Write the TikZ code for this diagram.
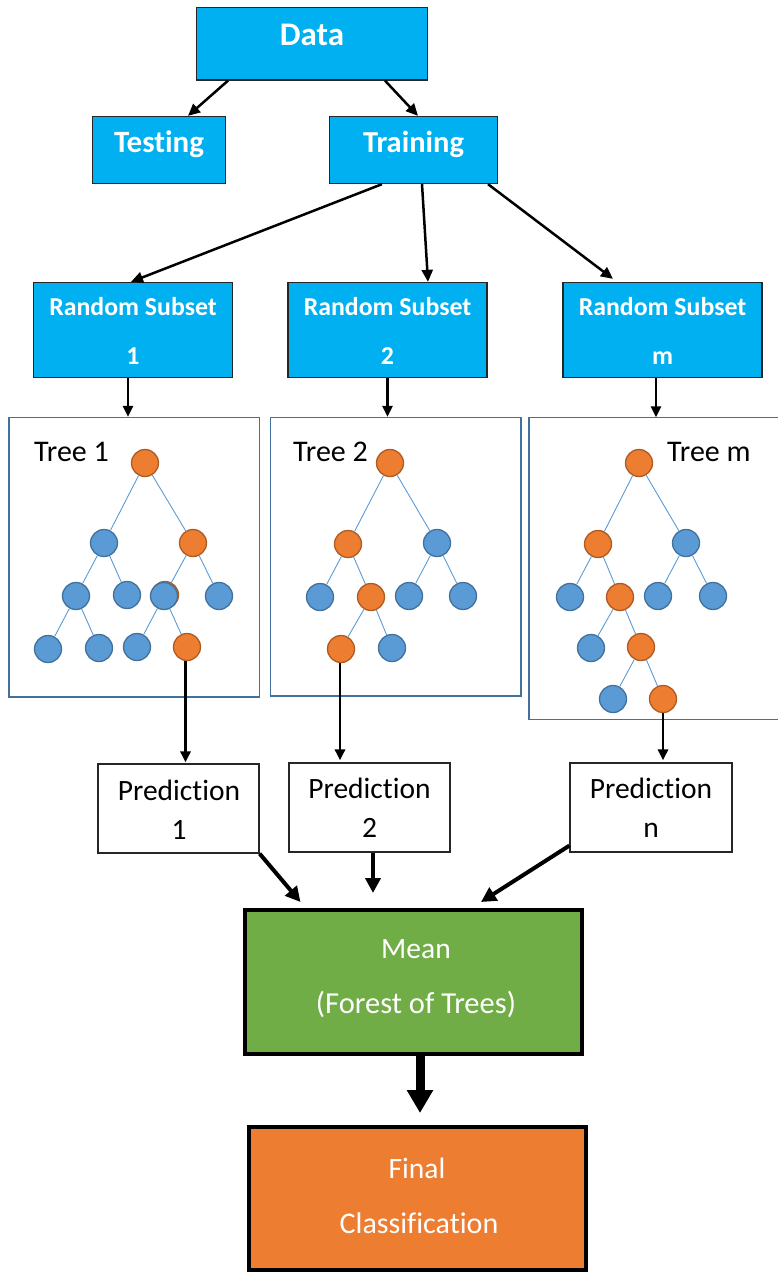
\documentclass[tikz,border=0pt]{standalone}
\usepackage{fontspec}
\setmainfont{Carlito}[Ligatures=NoCommon]
\usetikzlibrary{arrows.meta}
\definecolor{cyanbox}{HTML}{00B0F0}
\definecolor{treeblue}{HTML}{5B9BD5}
\definecolor{treebluedark}{HTML}{41719C}
\definecolor{treeorange}{HTML}{ED7D31}
\definecolor{treeorangedark}{HTML}{AE5A21}
\definecolor{meangreen}{HTML}{70AD47}
\definecolor{frame}{HTML}{262626}
\tikzset{
  bluebox/.style={draw=frame, line width=1.3pt, fill=cyanbox, inner sep=0pt},
  treebox/.style={draw=treebluedark, line width=1.4pt, inner sep=0pt},
  predbox/.style={draw=frame, line width=1.2pt, fill=white, inner sep=0pt},
  bigbox/.style={draw=black, line width=4pt, inner sep=0pt},
  onode/.style={circle, minimum size=27pt, inner sep=0pt, fill=treeorange, draw=treeorangedark, line width=1.3pt},
  bnode/.style={circle, minimum size=27pt, inner sep=0pt, fill=treeblue, draw=treebluedark, line width=1.3pt},
  edge/.style={draw=treeblue, line width=0.9pt},
  arr/.style={line width=2.5pt, -{Triangle[length=12pt,width=11pt]}},
  arrs/.style={line width=2.8pt, -{Triangle[length=11pt,width=10pt]}},
  arrb/.style={line width=4pt, -{Triangle[length=15pt,width=15pt]}},
  arrh/.style={line width=9pt, -{Triangle[length=23pt,width=25pt]}},
  boldw/.style={text=white, font=\bfseries\fontsize{#1}{#1}\selectfont, anchor=base, inner sep=0pt},
  regtxt/.style={font=\fontsize{#1}{#1}\selectfont, anchor=base, inner sep=0pt},
  regtxt/.default=29.5,
}
\begin{document}
\begin{tikzpicture}[x=1pt, y=-1pt]
\useasboundingbox (0,0) rectangle (778,1274);

% ---- top boxes
\node[bluebox, minimum width=231pt, minimum height=72.5pt] (data) at (312,43.75) {};
\node[boldw=33] (datat) at (312,45.7) {Data};
\node[bluebox, minimum width=133pt, minimum height=67pt] (testing) at (159,150) {};
\node[boldw=31] (testingt) at (159,152.7) {Testing};
\node[bluebox, minimum width=168pt, minimum height=67pt] (training) at (413.5,150) {};
\node[boldw=30.5] (trainingt) at (413.5,152.7) {Training};

% ---- random subsets
\node[bluebox, minimum width=199pt, minimum height=95pt] (rs1) at (133,330) {};
\node[bluebox, minimum width=199pt, minimum height=95pt] (rs2) at (387.5,330) {};
\node[bluebox, minimum width=199pt, minimum height=95pt] (rsm) at (662.5,330) {};
\node[boldw=25.8] (rs1a) at (133,315) {Random Subset};
\node[boldw=25.8] (rs1b) at (133,364.3) {1};
\node[boldw=25.8] (rs2a) at (387.5,315) {Random Subset};
\node[boldw=25.8] (rs2b) at (387.5,364.3) {2};
\node[boldw=25.8] (rsma) at (662.5,315) {Random Subset};
\node[boldw=25.8] (rsmb) at (662.5,364.3) {m};

% ---- tree boxes
\node[treebox, minimum width=250.5pt, minimum height=279.5pt] (t1) at (134.25,557.25) {};
\node[treebox, minimum width=250.3pt, minimum height=278.5pt] (t2) at (395.85,556.75) {};
\node[inner sep=0pt, minimum width=249pt, minimum height=301.5pt] (tm) at (653.5,568.25) {};
\draw[draw=treebluedark, line width=1.4pt] (tm.north east) -| (tm.south west) -- (tm.south east);

\node[regtxt=30, anchor=base west] (t1l) at (34,461.7) {Tree 1};
\node[regtxt=30, anchor=base west] (t2l) at (293,461.7) {Tree 2};
\node[regtxt=30, anchor=base west] (tml) at (667,461.7) {Tree m};

% ---- tree 1
\node[onode] (a5o) at (165,595) {};
\node[onode] (a0) at (145,463) {};
\node[bnode] (a1) at (104,543) {};
\node[onode] (a2) at (193,543) {};
\node[bnode] (a3) at (76,596) {};
\node[bnode] (a4) at (127,595) {};
\node[bnode] (a5) at (164,596) {};
\node[bnode] (a6) at (219,596) {};
\node[bnode] (a7) at (48,649) {};
\node[bnode] (a8) at (99,648) {};
\node[bnode] (a9) at (137,647) {};
\node[onode] (a10) at (187,647) {};
\foreach \u/\v in {a0/a1,a0/a2,a1/a3,a1/a4,a2/a5,a2/a6,a3/a7,a3/a8,a5/a9,a5/a10}
  \draw[edge] (\u) -- (\v);

% ---- tree 2
\node[onode] (b0) at (390,463) {};
\node[onode] (b1) at (348,544) {};
\node[bnode] (b2) at (437,543) {};
\node[bnode] (b3) at (320,597) {};
\node[onode] (b4) at (371,597) {};
\node[bnode] (b5) at (409,596) {};
\node[bnode] (b6) at (463,596) {};
\node[onode] (b7) at (341,649) {};
\node[bnode] (b8) at (392,648) {};
\foreach \u/\v in {b0/b1,b0/b2,b1/b3,b1/b4,b2/b5,b2/b6,b4/b7,b4/b8}
  \draw[edge] (\u) -- (\v);

% ---- tree m
\node[onode] (c0) at (639,463) {};
\node[onode] (c1) at (598,544) {};
\node[bnode] (c2) at (686,543) {};
\node[bnode] (c3) at (570,597) {};
\node[onode] (c4) at (620,597) {};
\node[bnode] (c5) at (658,596) {};
\node[bnode] (c6) at (713,596) {};
\node[bnode] (c7) at (591,648) {};
\node[onode] (c8) at (641,647) {};
\node[bnode] (c9) at (613,699) {};
\node[onode] (c10) at (663,699) {};
\foreach \u/\v in {c0/c1,c0/c2,c1/c3,c1/c4,c2/c5,c2/c6,c4/c7,c4/c8,c8/c9,c8/c10}
  \draw[edge] (\u) -- (\v);

% ---- predictions
\node[predbox, minimum width=161pt, minimum height=89pt] (p1) at (178.5,808.5) {};
\node[predbox, minimum width=161pt, minimum height=89pt] (p2) at (369.5,807.5) {};
\node[predbox, minimum width=162pt, minimum height=89pt] (pn) at (651,807.5) {};
\node[regtxt] (p1a) at (179,800) {Prediction};
\node[regtxt] (p1b) at (179,839) {1};
\node[regtxt] (p2a) at (369.5,798) {Prediction};
\node[regtxt] (p2b) at (369.5,837.7) {2};
\node[regtxt] (pna) at (651,798) {Prediction};
\node[regtxt] (pnb) at (651,837) {n};

% ---- mean and final
\node[bigbox, fill=meangreen, minimum width=337pt, minimum height=144pt] (mean) at (413.5,982) {};
\node[regtxt, text=white] (meana) at (416,958) {Mean};
\node[regtxt=30.5, text=white] (meanb) at (416,1013) {(Forest of Trees)};
\node[bigbox, fill=treeorange, minimum width=337pt, minimum height=143pt] (final) at (417.5,1198.5) {};
\node[regtxt, text=white] (finala) at (417,1178) {Final};
\node[regtxt=30, text=white] (finalb) at (419,1233) {Classification};

% ---- connectors
\draw[arr] ([xshift=-84pt]data.south) -- ([xshift=29pt]testing.north);
\draw[arr] ([xshift=73pt]data.south) -- ([xshift=4.5pt]training.north);
\draw[arr] ([xshift=-31.5pt]training.south) -- ([xshift=-2pt]rs1.north);
\draw[arr] ([xshift=8.5pt]training.south) -- ([xshift=40.5pt]rs2.north);
\draw[arr] ([xshift=74.5pt]training.south) -- ([xshift=-49.5pt,yshift=3pt]rsm.north);

\draw[arrs] ([xshift=-5pt]rs1.south) -- ([xshift=-5pt]rs1.south |- t1.north);
\draw[arrs] (rs2.south) -- (rs2.south |- t2.north);
\draw[arrs] ([xshift=-6.5pt]rsm.south) -- ([xshift=-6.5pt]rsm.south |- tm.north);

\draw[arrs] ([xshift=-1.5pt]a10.south) -- ([xshift=-1.5pt,yshift=1pt]a10.south |- p1.north);
\draw[arrs] ([xshift=-1pt]b7.south) -- ([xshift=-1pt,yshift=2pt]b7.south |- p2.north);
\draw[arrs] (c10.south) -- ([yshift=2pt]c10.south |- pn.north);

\draw[arrb] (p1.south east) -- ([xshift=-113pt,yshift=6pt]mean.north);
\draw[arrb] ([xshift=3.5pt]p2.south) -- ([xshift=-40.5pt,yshift=15pt]mean.north);
\draw[arrb] ([yshift=7pt]pn.south west) -- ([xshift=67.5pt,yshift=6pt]mean.north);
\draw[arrh] ([xshift=6.5pt,yshift=2pt]mean.south) -- ([xshift=6.5pt,yshift=12pt]mean.south |- final.north);
\end{tikzpicture}
\end{document}
